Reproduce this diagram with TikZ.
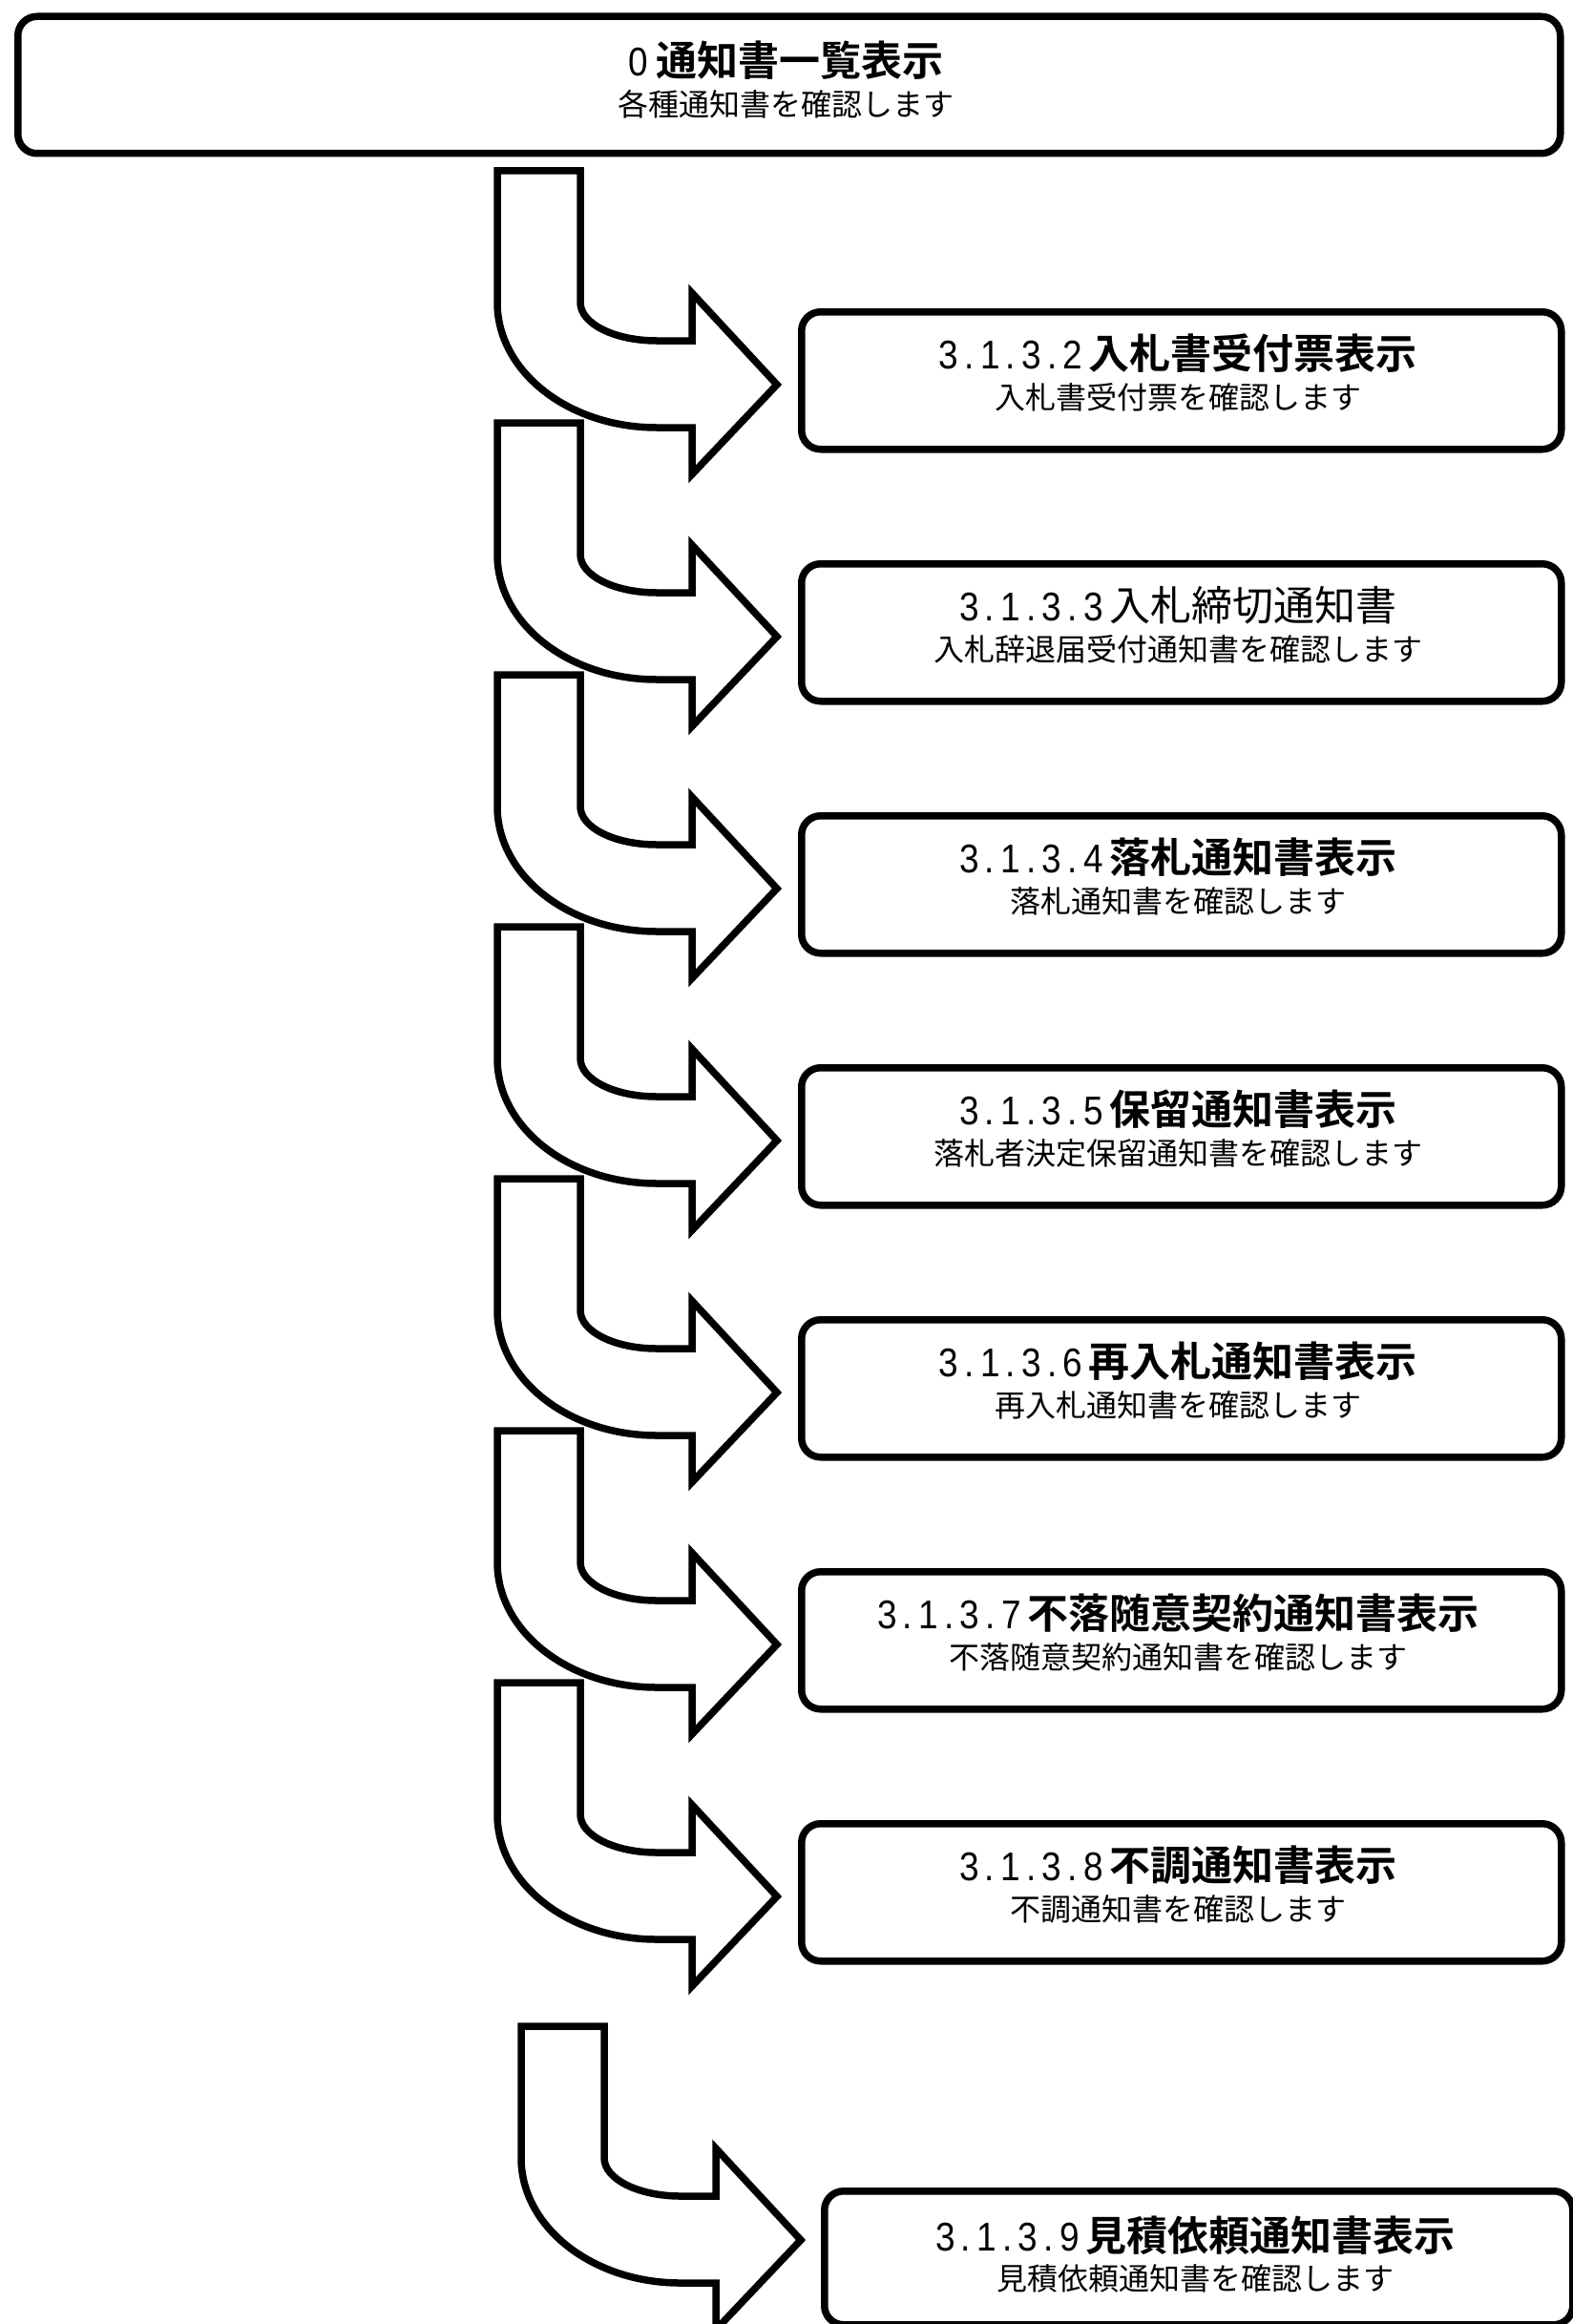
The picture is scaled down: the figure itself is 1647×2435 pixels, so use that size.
\documentclass[tikz,border=0pt]{standalone}
\usepackage{graphicx}
\usepackage{fontspec}
\newfontfamily\jp{Noto Sans CJK JP}[BoldFont={Noto Sans CJK JP Bold}]
\newfontfamily\dgf{Liberation Sans}
\newcommand\hwd[1]{\makebox[21.7pt]{\dgf\fontseries{m}\fontsize{42}{42}\selectfont\scalebox{0.88}[1]{#1}}}
\newcommand\sno[1]{\hwd{3}\hwd{.}\hwd{1}\hwd{.}\hwd{3}\hwd{.}\hwd{#1}\hspace{6pt}}
\newcommand\mkbox[9]{%
  \node[frame, minimum width=#4pt, minimum height=#5pt, anchor=north west] (#1) at (#2,#3) {};
  \node[ttl] (#1t) at (#2+#4/2, #3+#6) {#8};
  \node[subt] (#1s) at (#2+#4/2, #3+#7) {#9};}
\newcommand\bentarrow{%
  \draw[bigarrow] (521,179) -- (608,179) -- (608,317)
    .. controls (608,339.1) and (643.8,357) .. (688,357)
    -- (725,357) -- (725,307) -- (814,403) -- (725,497) -- (725,448) -- (688,448)
    .. controls (595.8,448) and (521,389.4) .. (521,317) -- cycle;}
\begin{document}
\begin{tikzpicture}[x=1pt,y=-1pt,
  frame/.style={draw=black, line width=7.5pt, rounded corners=20pt, fill=white, inner sep=0pt},
  bigarrow/.style={draw=black, line width=7.5pt, fill=white, line join=miter},
  ttl/.style={inner sep=0pt, font=\jp\bfseries\fontsize{43}{43}\selectfont},
  subt/.style={inner sep=0pt, font=\jp\fontsize{32}{32}\selectfont}]
\fill[white] (0,0) rectangle (1647,2435);
\useasboundingbox (0,0) rectangle (1647,2435);

\mkbox{top}{15}{13.5}{1616}{143.5}{50}{96}{\hwd{0}\hspace{8pt}通知書一覧表示}{各種通知書を確認します}

\foreach \k in {0,...,6}{
  \begin{scope}[shift={(0,264*\k)}]
    \bentarrow
  \end{scope}
}
\begin{scope}[shift={(25,1944)}]
  \bentarrow
\end{scope}

\mkbox{b2}{836}{323}{796}{144}{47}{93}{\sno{2}入札書受付票表示}{入札書受付票を確認します}
\mkbox{b3}{836}{587}{796}{144}{47}{93}{\sno{3}\mdseries 入札締切通知書}{入札辞退届受付通知書を確認します}
\mkbox{b4}{836}{851}{796}{144}{47}{93}{\sno{4}落札通知書表示}{落札通知書を確認します}
\mkbox{b5}{836}{1115}{796}{144}{47}{93}{\sno{5}保留通知書表示}{落札者決定保留通知書を確認します}
\mkbox{b6}{836}{1379}{796}{144}{47}{93}{\sno{6}再入札通知書表示}{再入札通知書を確認します}
\mkbox{b7}{836}{1643}{796}{144}{47}{93}{\sno{7}不落随意契約通知書表示}{不落随意契約通知書を確認します}
\mkbox{b8}{836}{1907}{796}{144}{47}{93}{\sno{8}不調通知書表示}{不調通知書を確認します}
\mkbox{b9}{860}{2292}{784}{140}{50}{95}{\sno{9}見積依頼通知書表示}{見積依頼通知書を確認します}
\end{tikzpicture}
\end{document}
